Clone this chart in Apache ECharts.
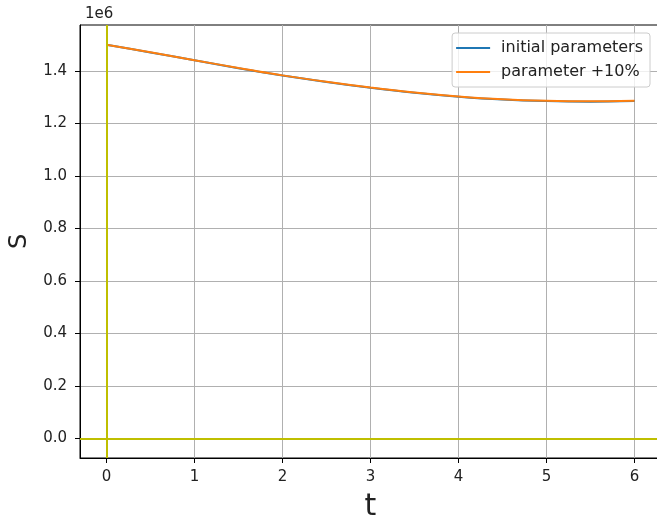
<!DOCTYPE html>
<html>
<head>
<meta charset="utf-8">
<script src="https://cdn.jsdelivr.net/npm/echarts@6/dist/echarts.min.js"></script>
<style>html,body{margin:0;padding:0;background:#fff}#c{width:657px;height:521px}</style>
</head>
<body>
<div id="c"></div>
<script>
var tValues = [0, 0.5, 1, 1.5, 2, 2.5, 3, 3.5, 4, 4.5, 5, 5.5, 6];
var sInitial = [1500000, 1470500, 1440500, 1410500, 1382500, 1358000, 1336000, 1317000, 1302000, 1291000, 1285000, 1283000, 1285000];
var sPlus10 = [1500000, 1471000, 1441000, 1411000, 1383000, 1359000, 1337000, 1318000, 1303000, 1292000, 1286000, 1284000, 1286000];
var xTicks = [0, 1, 2, 3, 4, 5, 6];
var yTicks = [0, 200000, 400000, 600000, 800000, 1000000, 1200000, 1400000];
var seriesNames = ['initial parameters', 'parameter +10%'];

function pairs(xs, ys) { return xs.map(function (x, i) { return [x, ys[i]]; }); }

var font = 'DejaVu Sans';
var chart = echarts.init(document.getElementById('c'), null, {renderer: 'canvas'});
chart.setOption({
  animation: false,
  backgroundColor: '#fff',
  textStyle: {fontFamily: font},
  title: {text: '1e6', left: 80, top: 2, textStyle: {fontFamily: font, fontSize: 15, fontWeight: 'normal', color: '#222'}},
  grid: {left: 80, top: 25, right: -4, bottom: 63, show: true, borderColor: '#000', borderWidth: 1,
    containLabel: false, outerBoundsMode: 'none'},
  legend: {
    orient: 'vertical', right: 7, top: 33,
    data: seriesNames.map(function (n) { return {name: n, icon: 'rect'}; }),
    itemWidth: 34, itemHeight: 2, itemGap: 8,
    padding: [7, 7, 7, 4],
    backgroundColor: 'rgba(255,255,255,0.8)', borderColor: '#cccccc', borderWidth: 1, borderRadius: 3,
    textStyle: {fontFamily: font, fontSize: 16, color: '#222', padding: [0, 0, 0, 6]}
  },
  xAxis: {
    type: 'value', min: -0.3, max: 6.3,
    name: 't', nameLocation: 'middle', nameGap: 34,
    nameTextStyle: {fontFamily: font, fontSize: 30, color: '#222'},
    axisLine: {show: true, onZero: false, lineStyle: {color: '#000', width: 1}},
    axisTick: {show: true, inside: false, length: 5, customValues: xTicks, lineStyle: {color: '#000'}},
    axisLabel: {customValues: xTicks, margin: 12, fontFamily: font, fontSize: 15, color: '#222'},
    splitLine: {show: true, lineStyle: {color: '#b0b0b0', width: 1}}
  },
  yAxis: {
    type: 'value', min: -75000, max: 1575000,
    name: 'S', nameLocation: 'middle', nameGap: 44,
    nameTextStyle: {fontFamily: font, fontSize: 24, color: '#222'},
    axisLine: {show: true, onZero: false, lineStyle: {color: '#000', width: 1}},
    axisTick: {show: true, inside: false, length: 5, customValues: yTicks, lineStyle: {color: '#000'}},
    axisLabel: {customValues: yTicks, margin: 13, fontFamily: font, fontSize: 15, color: '#222',
      formatter: function (v) { return (v / 1e6).toFixed(1); }},
    splitLine: {show: true, lineStyle: {color: '#b0b0b0', width: 1}}
  },
  series: [
    {
      name: seriesNames[0], type: 'line', data: pairs(tValues, sInitial), smooth: 0.3,
      showSymbol: false, symbol: 'none', color: '#1f77b4', lineStyle: {width: 2, color: '#1f77b4'}, z: 3,
      markLine: {
        silent: true, symbol: 'none', label: {show: false},
        lineStyle: {color: '#bfbf00', width: 2, type: 'solid'},
        data: [{xAxis: 0}, {yAxis: 0}]
      }
    },
    {
      name: seriesNames[1], type: 'line', data: pairs(tValues, sPlus10), smooth: 0.3,
      showSymbol: false, symbol: 'none', color: '#ff7f0e', lineStyle: {width: 2, color: '#ff7f0e'}, z: 4
    }
  ]
});
</script>
</body>
</html>
